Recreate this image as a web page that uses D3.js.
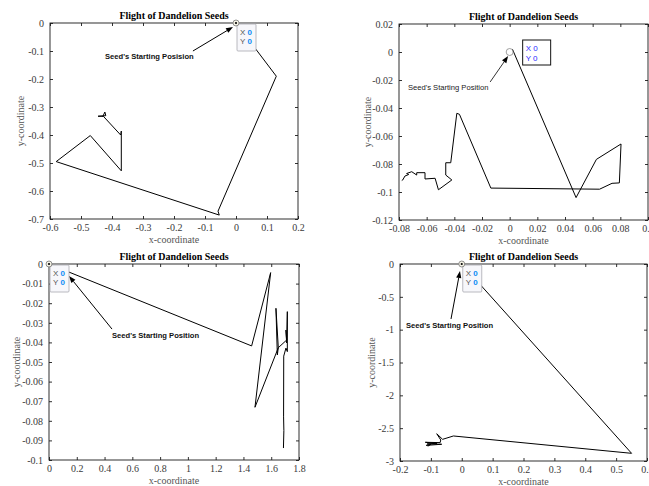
<!DOCTYPE html>
<html>
<head>
<meta charset="utf-8">
<script src="https://cdn.jsdelivr.net/npm/d3@7"></script>
<style>
  body { margin: 0; background: #fff; }
  svg { display: block; }
</style>
</head>
<body>
<div id="chart"></div>
<script>

// seed trajectories
var seedPath1 = [[0, 0], [0.13, -0.19], [-0.058, -0.672], [-0.054, -0.686], [-0.58, -0.495],
  [-0.47, -0.402], [-0.37, -0.528], [-0.37, -0.386], [-0.372, -0.40], [-0.428, -0.333],
  [-0.445, -0.333], [-0.42, -0.331], [-0.423, -0.318], [-0.43, -0.335]];

var seedPath2 = [[0.002, 0.002], [0.048, -0.104], [0.0627, -0.0767], [0.0805, -0.0657], [0.0793, -0.0935],
  [0.074, -0.0938], [0.065, -0.098], [-0.0136, -0.0972], [-0.0363, -0.0445], [-0.0382, -0.0438],
  [-0.0426, -0.0791], [-0.0462, -0.0791], [-0.0462, -0.0879], [-0.0418, -0.0914], [-0.0515, -0.0984],
  [-0.0539, -0.0902], [-0.0612, -0.0907], [-0.0612, -0.0862], [-0.0672, -0.0862], [-0.0672, -0.0879],
  [-0.0708, -0.0855], [-0.0745, -0.0868], [-0.073, -0.0875], [-0.0757, -0.0886], [-0.0773, -0.0914],
  [-0.078, -0.0918]];

var seedPath3 = [[0, 0], [1.459, -0.0418], [1.596, -0.0044], [1.483, -0.0731], [1.651, -0.0427],
  [1.634, -0.0226], [1.644, -0.0464], [1.651, -0.0427], [1.711, -0.0388], [1.706, -0.0337],
  [1.711, -0.0403], [1.716, -0.0243], [1.716, -0.0447], [1.706, -0.0429], [1.69, -0.047],
  [1.689, -0.078], [1.691, -0.085], [1.688, -0.0939]];

var seedPath4 = [[0, 0], [0.55, -2.883], [-0.027, -2.619], [-0.062, -2.67], [-0.081, -2.585],
  [-0.068, -2.68], [-0.07, -2.72], [-0.118, -2.715], [-0.08, -2.73], [-0.112, -2.74],
  [-0.065, -2.745], [-0.115, -2.762], [-0.1, -2.745], [-0.11, -2.775]];

// tick values
var xTicks1 = [-0.6, -0.5, -0.4, -0.3, -0.2, -0.1, 0, 0.1, 0.2];
var yTicks1 = [-0.7, -0.6, -0.5, -0.4, -0.3, -0.2, -0.1, 0];
var xTicks2 = [-0.08, -0.06, -0.04, -0.02, 0, 0.02, 0.04, 0.06, 0.08, 0.1];
var yTicks2 = [-0.12, -0.1, -0.08, -0.06, -0.04, -0.02, 0, 0.02];
var xTicks3 = [0, 0.2, 0.4, 0.6, 0.8, 1, 1.2, 1.4, 1.6, 1.8];
var yTicks3 = [-0.1, -0.09, -0.08, -0.07, -0.06, -0.05, -0.04, -0.03, -0.02, -0.01, 0];
var xTicks4 = [-0.2, -0.1, 0, 0.1, 0.2, 0.3, 0.4, 0.5, 0.6];
var yTicks4 = [-3, -2.5, -2, -1.5, -1, -0.5, 0];

// annotation: text anchor and arrow (tail -> head), in data units
var notes = [
  { text: "Seed's Starting Posision", at: [-0.4226, -0.121], from: [-0.139, -0.1], to: [-0.0097, -0.0143] },
  { text: "Seed's Starting Position", at: [-0.0735, -0.025], from: [-0.0141, -0.0214], to: [-0.0011, -0.0029] },
  { text: "Seed's Starting Position", at: [0.4536, -0.0367], from: [0.4536, -0.0332], to: [0.144, -0.0061] },
  { text: "Seed's Starting Position", at: [-0.1806, -0.944], from: [-0.0348, -0.8375], to: [-0.0057, -0.1066] }
];

var panels = [
  { left: 50, top: 23, width: 248, height: 196, xDomain: [-0.6, 0.2], yDomain: [-0.7, 0],
    xTicks: xTicks1, yTicks: yTicks1, path: seedPath1, note: notes[0], oldTip: false, yLab: -26 },
  { left: 399, top: 24, width: 249, height: 196, xDomain: [-0.08, 0.1], yDomain: [-0.12, 0.02],
    xTicks: xTicks2, yTicks: yTicks2, path: seedPath2, note: notes[1], oldTip: true, yLab: -28 },
  { left: 49, top: 264, width: 250, height: 196, xDomain: [0, 1.8], yDomain: [-0.1, 0],
    xTicks: xTicks3, yTicks: yTicks3, path: seedPath3, note: notes[2], oldTip: false, yLab: -29 },
  { left: 400, top: 264, width: 247, height: 197, xDomain: [-0.2, 0.6], yDomain: [-3, 0],
    xTicks: xTicks4, yTicks: yTicks4, path: seedPath4, note: notes[3], oldTip: false, yLab: -25 }
];

var svg = d3.select('#chart')
  .append('svg')
  .attr('width', 649)
  .attr('height', 486);

function fmt(v) {
  return String(+v.toFixed(4));
}

panels.forEach(drawPanel);

function drawPanel(p) {
  var x = d3.scaleLinear().domain(p.xDomain).range([0, p.width]);
  var y = d3.scaleLinear().domain(p.yDomain).range([p.height, 0]);

  var g = svg.append('g')
    .attr('transform', 'translate(' + p.left + ',' + p.top + ')');

  g.append('rect')
    .attr('width', p.width)
    .attr('height', p.height)
    .attr('fill', 'none')
    .attr('stroke', '#1a1a1a')
    .attr('stroke-width', 0.9);

  var axes = [
    { ax: d3.axisBottom(x).tickValues(p.xTicks).tickFormat(fmt).tickPadding(5), t: 'translate(0,' + p.height + ')' },
    { ax: d3.axisTop(x).tickValues(p.xTicks).tickFormat(''), t: null },
    { ax: d3.axisLeft(y).tickValues(p.yTicks).tickFormat(fmt).tickPadding(6), t: null },
    { ax: d3.axisRight(y).tickValues(p.yTicks).tickFormat(''), t: 'translate(' + p.width + ',0)' }
  ];

  axes.forEach(function(a) {
    var ga = g.append('g')
      .attr('transform', a.t)
      .attr('font-family', '"Liberation Serif", "Times New Roman", serif')
      .call(a.ax.tickSizeInner(-3).tickSizeOuter(0));
    ga.select('.domain').remove();
    ga.selectAll('line').attr('stroke', '#1a1a1a').attr('stroke-width', 0.9);
    ga.selectAll('text')
      .attr('fill', '#3a3a3a')
      .style('font-family', '"Liberation Serif", "Times New Roman", serif')
      .style('font-size', '10px');
  });

  // trajectory
  g.append('path')
    .datum(p.path)
    .attr('d', d3.line().x((d) => x(d[0])).y((d) => y(d[1])))
    .attr('fill', 'none')
    .attr('stroke', '#000')
    .attr('stroke-width', 1)
    .attr('stroke-linejoin', 'round');

  // annotation arrow + label
  var n = p.note;
  arrow(g, x(n.from[0]), y(n.from[1]), x(n.to[0]), y(n.to[1]), p.oldTip ? 0.8 : 1);
  g.append('text')
    .attr('x', x(n.at[0]))
    .attr('y', y(n.at[1]) + 2.5)
    .text(n.text)
    .style('font-family', '"Liberation Sans", Arial, sans-serif')
    .style('font-size', '7.6px')
    .style('font-weight', p.oldTip ? 'normal' : 'bold')
    .attr('fill', p.oldTip ? '#222' : '#111');

  // start marker and data tip
  var ox = x(0), oy = y(0);
  if (p.oldTip) {
    g.append('circle')
      .attr('cx', ox).attr('cy', oy).attr('r', 3.5)
      .attr('fill', 'none').attr('stroke', '#888').attr('stroke-width', 0.8);
    var tip = g.append('g').attr('transform', 'translate(' + (ox + 13) + ',' + (oy - 12) + ')');
    tip.append('rect')
      .attr('width', 28).attr('height', 25)
      .attr('fill', '#fff').attr('stroke', '#111').attr('stroke-width', 1);
    ['X 0', 'Y 0'].forEach(function(s, i) {
      tip.append('text')
        .attr('x', 3).attr('y', 11 + i * 10)
        .text(s)
        .style('font-family', '"Liberation Sans", Arial, sans-serif')
        .style('font-size', '8px')
        .attr('fill', '#2a2aff');
    });
  } else {
    var tip2 = g.append('g').attr('transform', 'translate(' + (ox + 1) + ',' + (oy + 1) + ')');
    tip2.append('rect')
      .attr('width', 19).attr('height', 27).attr('rx', 1)
      .attr('fill', '#f7f7fb').attr('stroke', '#a8a8b0').attr('stroke-width', 0.8);
    ['X', 'Y'].forEach(function(s, i) {
      var t = tip2.append('text')
        .attr('x', 3).attr('y', 11 + i * 9)
        .style('font-family', '"Liberation Sans", Arial, sans-serif')
        .style('font-size', '8px');
      t.append('tspan').text(s + ' ').attr('fill', '#555');
      t.append('tspan').text('0').attr('fill', '#0a8cf5').style('font-weight', 'bold');
    });
    g.append('circle')
      .attr('cx', ox).attr('cy', oy).attr('r', 3)
      .attr('fill', '#f3f1e4').attr('stroke', '#777').attr('stroke-width', 0.8);
    g.append('circle')
      .attr('cx', ox).attr('cy', oy).attr('r', 1.1)
      .attr('fill', '#000');
  }

  // title and axis labels
  g.append('text')
    .attr('x', p.width / 2).attr('y', -4)
    .attr('text-anchor', 'middle')
    .text('Flight of Dandelion Seeds')
    .style('font-family', '"Liberation Serif", "Times New Roman", serif')
    .style('font-size', '10px')
    .style('font-weight', 'bold')
    .attr('fill', '#000');

  g.append('text')
    .attr('x', p.width / 2).attr('y', p.height + 24)
    .attr('text-anchor', 'middle')
    .text('x-coordinate')
    .style('font-family', '"Liberation Serif", "Times New Roman", serif')
    .style('font-size', '10px')
    .attr('fill', '#555');

  g.append('text')
    .attr('transform', 'translate(' + p.yLab + ',' + (p.height / 2) + ') rotate(-90)')
    .attr('text-anchor', 'middle')
    .text('y-coordinate')
    .style('font-family', '"Liberation Serif", "Times New Roman", serif')
    .style('font-size', '10px')
    .attr('fill', '#555');
}

function arrow(g, x1, y1, x2, y2, w) {
  var dx = x2 - x1, dy = y2 - y1;
  var len = Math.sqrt(dx * dx + dy * dy);
  var ux = dx / len, uy = dy / len;
  var hl = 7, hw = 2.6;
  var bx = x2 - ux * hl, by = y2 - uy * hl;
  g.append('line')
    .attr('x1', x1).attr('y1', y1)
    .attr('x2', bx).attr('y2', by)
    .attr('stroke', '#000').attr('stroke-width', w);
  g.append('path')
    .attr('d', 'M' + x2 + ',' + y2 +
      'L' + (bx - uy * hw) + ',' + (by + ux * hw) +
      'L' + (bx + uy * hw) + ',' + (by - ux * hw) + 'Z')
    .attr('fill', '#000');
}
</script>
</body>
</html>
